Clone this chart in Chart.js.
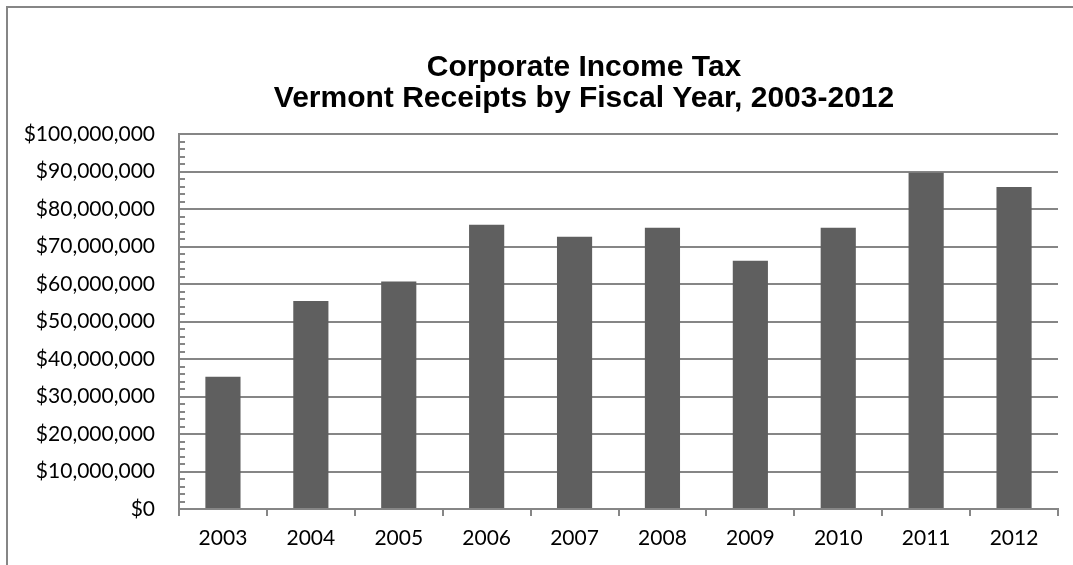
<!DOCTYPE html>
<html>
<head>
<meta charset="utf-8">
<title>Corporate Income Tax</title>
<script src="https://cdn.jsdelivr.net/npm/chart.js@4.4.1/dist/chart.umd.min.js"></script>
<style>
  html, body { margin: 0; padding: 0; background: #fff; overflow: hidden; width: 1073px; height: 565px; }
  #frame { position: absolute; left: 6px; top: 6px; width: 1200px; height: 700px; border-left: 2px solid #868686; border-top: 2px solid #868686; }
  /* the chart box runs past the right edge of the page */
  #wrap { position: absolute; left: 0; top: 0; width: 1168px; height: 565px; }
</style>
</head>
<body>
<div id="frame"></div>
<div id="wrap"><canvas id="barChart"></canvas></div>
<script>
// Fiscal years and corporate income tax receipts (dollars)
const years = ['2003', '2004', '2005', '2006', '2007', '2008', '2009', '2010', '2011', '2012'];
const receipts = [35300000, 55500000, 60700000, 75800000, 72600000, 75000000, 66200000, 75000000, 89700000, 85900000];

// Value axis range and tick spacing
const yMin = 0;
const yMax = 100000000;
const yStep = 10000000;
const yMinorStep = 2000000;

const titleLines = ['Corporate Income Tax', 'Vermont Receipts by Fiscal Year, 2003-2012'];

const axisGray = '#868686';
const barGray = '#5f5f5f';

function dollars(v) {
    return '$' + Number(v).toLocaleString('en-US');
}

// Small inward tick marks between the major gridlines on the value axis
const minorTicks = {
    id: 'minorTicks',
    afterDraw(chart) {
        const y = chart.scales.y;
        const ctx = chart.ctx;
        ctx.save();
        ctx.strokeStyle = axisGray;
        ctx.lineWidth = 2;
        ctx.beginPath();
        for (let v = yMin + yMinorStep; v < yMax; v += yMinorStep) {
            if (v % yStep === 0) continue;
            const py = Math.round(y.getPixelForValue(v));
            ctx.moveTo(y.right, py);
            ctx.lineTo(y.right + 6, py);
        }
        ctx.stroke();
        ctx.restore();
    }
};

document.addEventListener('DOMContentLoaded', function () {
    const ctx = document.getElementById('barChart').getContext('2d');
    new Chart(ctx, {
        type: 'bar',
        data: {
            labels: years,
            datasets: [{
                label: 'Receipts',
                data: receipts,
                backgroundColor: barGray,
                borderWidth: 0,
                barPercentage: 0.4,
                categoryPercentage: 1.0
            }]
        },
        options: {
            responsive: true,
            maintainAspectRatio: false,
            animation: false,
            layout: {
                padding: 0
            },
            plugins: {
                legend: { display: false },
                tooltip: { enabled: false },
                title: {
                    display: true,
                    text: titleLines,
                    color: '#000',
                    font: { family: 'Liberation Sans', size: 30, weight: 'bold', lineHeight: 31 / 30 },
                    padding: { top: 52, bottom: 20 }
                }
            },
            scales: {
                x: {
                    offset: true,
                    grid: {
                        offset: true,
                        drawOnChartArea: false,
                        drawTicks: true,
                        tickLength: 7,
                        color: axisGray,
                        lineWidth: 2
                    },
                    border: { display: true, color: axisGray, width: 2 },
                    ticks: {
                        color: '#000',
                        font: { family: 'Lato', size: 21 },
                        padding: 10,
                        maxRotation: 0
                    },
                    afterFit(scale) { scale.height = 56; }
                },
                y: {
                    min: yMin,
                    max: yMax,
                    grid: {
                        drawTicks: false,
                        color: axisGray,
                        lineWidth: 2
                    },
                    border: { display: true, color: axisGray, width: 2 },
                    ticks: {
                        stepSize: yStep,
                        color: '#000',
                        font: { family: 'Lato', size: 21 },
                        padding: 24,
                        callback: dollars
                    },
                    afterFit(scale) { scale.width = 179; }
                },
                // empty right-hand spacer: holds the plot's right edge in while the title spans the full box
                spacer: {
                    type: 'linear',
                    position: 'right',
                    grid: { display: false },
                    border: { display: false },
                    ticks: { display: false },
                    afterFit(scale) { scale.width = 110; }
                }
            }
        },
        plugins: [minorTicks]
    });
});
</script>
</body>
</html>
